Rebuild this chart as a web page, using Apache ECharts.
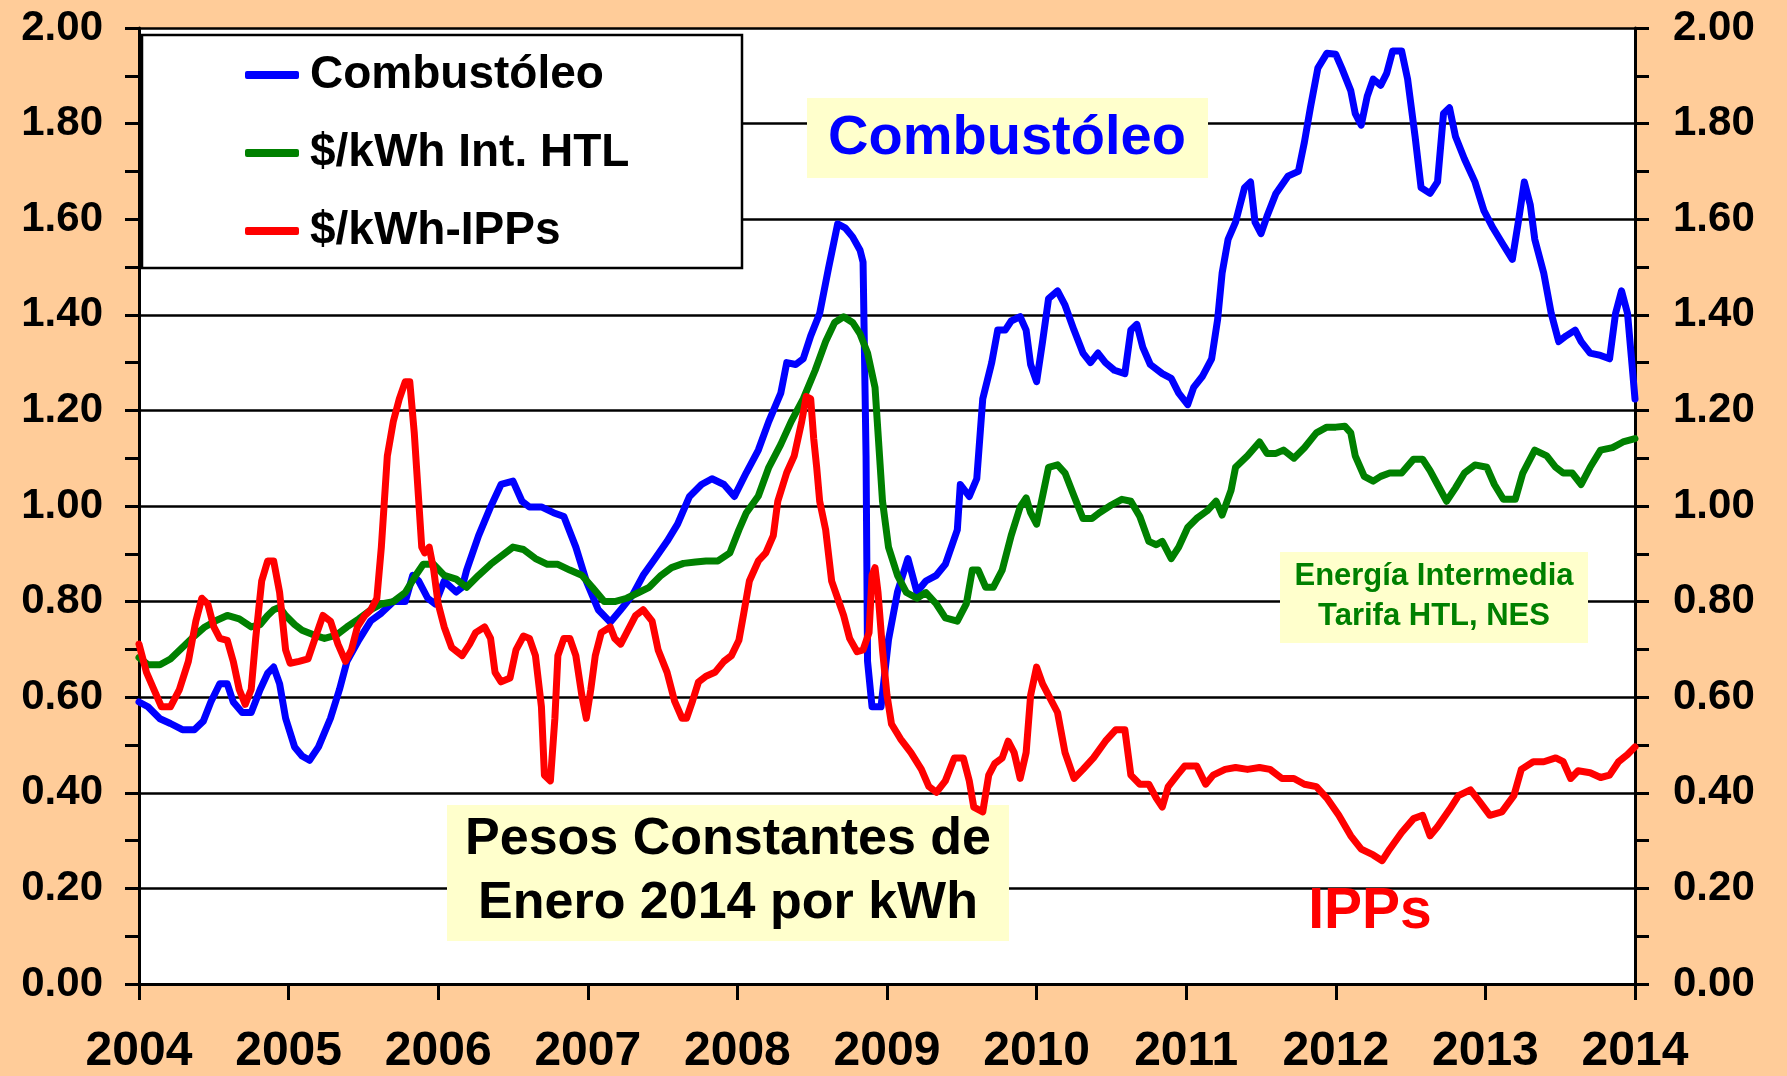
<!DOCTYPE html>
<html>
<head>
<meta charset="utf-8">
<script src="https://cdn.jsdelivr.net/npm/echarts@6/dist/echarts.min.js"></script>
<style>
  html, body { margin: 0; padding: 0; background: #FFCC99; }
  #chart { width: 1787px; height: 1076px; }
</style>
</head>
<body>
<div id="chart"></div>
<script>
// [año decimal, pesos por kWh]
const combustoleo = [
  [2004.00,0.59],[2004.06,0.58],[2004.14,0.555],[2004.21,0.545],[2004.29,0.532],[2004.37,0.532],
  [2004.43,0.55],[2004.48,0.59],[2004.54,0.628],[2004.59,0.628],[2004.63,0.59],[2004.69,0.568],
  [2004.75,0.568],[2004.81,0.616],[2004.86,0.65],[2004.90,0.663],[2004.94,0.628],[2004.98,0.556],
  [2005.04,0.496],[2005.09,0.477],[2005.14,0.468],[2005.20,0.496],[2005.28,0.556],[2005.34,0.616],
  [2005.39,0.675],[2005.47,0.72],[2005.55,0.76],[2005.62,0.776],[2005.70,0.80],[2005.78,0.80],
  [2005.83,0.855],[2005.87,0.843],[2005.93,0.807],[2005.98,0.795],[2006.04,0.843],[2006.12,0.82],
  [2006.16,0.83],[2006.19,0.866],[2006.27,0.938],[2006.35,0.998],[2006.42,1.045],[2006.50,1.052],
  [2006.56,1.01],[2006.61,0.998],[2006.69,0.998],[2006.77,0.986],[2006.84,0.978],[2006.92,0.914],
  [2006.99,0.843],[2007.07,0.783],[2007.15,0.757],[2007.22,0.783],[2007.30,0.814],[2007.37,0.855],
  [2007.45,0.89],[2007.53,0.926],[2007.60,0.962],[2007.68,1.02],[2007.76,1.045],[2007.83,1.057],
  [2007.91,1.045],[2007.98,1.02],[2008.06,1.07],[2008.14,1.117],[2008.21,1.177],[2008.29,1.236],
  [2008.33,1.30],[2008.39,1.296],[2008.44,1.308],[2008.49,1.356],[2008.55,1.403],[2008.61,1.499],
  [2008.67,1.59],[2008.72,1.582],[2008.77,1.563],[2008.82,1.535],[2008.84,1.51],[2008.86,1.105],
  [2008.87,0.675],[2008.90,0.58],[2008.96,0.58],[2009.01,0.72],[2009.07,0.82],[2009.14,0.89],
  [2009.20,0.82],[2009.26,0.843],[2009.33,0.855],[2009.39,0.878],[2009.47,0.95],[2009.49,1.045],
  [2009.55,1.02],[2009.60,1.057],[2009.64,1.224],[2009.70,1.30],[2009.74,1.368],[2009.79,1.368],
  [2009.83,1.387],[2009.89,1.396],[2009.93,1.368],[2009.96,1.296],[2010.00,1.26],[2010.04,1.344],
  [2010.08,1.434],[2010.14,1.45],[2010.19,1.42],[2010.25,1.368],[2010.31,1.32],[2010.36,1.30],
  [2010.41,1.32],[2010.46,1.30],[2010.52,1.284],[2010.59,1.277],[2010.63,1.368],[2010.67,1.38],
  [2010.71,1.332],[2010.76,1.296],[2010.84,1.277],[2010.90,1.267],[2010.95,1.236],[2011.01,1.212],
  [2011.05,1.248],[2011.11,1.272],[2011.17,1.308],[2011.21,1.39],[2011.24,1.487],[2011.28,1.558],
  [2011.33,1.594],[2011.39,1.666],[2011.43,1.678],[2011.46,1.594],[2011.50,1.57],[2011.54,1.606],
  [2011.60,1.654],[2011.68,1.69],[2011.75,1.70],[2011.79,1.761],[2011.83,1.833],[2011.88,1.916],
  [2011.94,1.947],[2012.00,1.945],[2012.04,1.916],[2012.10,1.869],[2012.13,1.821],[2012.17,1.797],
  [2012.21,1.857],[2012.25,1.893],[2012.30,1.88],[2012.34,1.905],[2012.38,1.952],[2012.44,1.952],
  [2012.48,1.893],[2012.53,1.773],[2012.57,1.666],[2012.63,1.654],[2012.68,1.678],[2012.72,1.821],
  [2012.76,1.833],[2012.80,1.773],[2012.86,1.726],[2012.93,1.678],[2012.99,1.618],[2013.05,1.582],
  [2013.12,1.546],[2013.18,1.516],[2013.22,1.594],[2013.26,1.678],[2013.30,1.63],[2013.33,1.558],
  [2013.39,1.487],[2013.44,1.403],[2013.49,1.344],[2013.54,1.356],[2013.60,1.368],[2013.64,1.344],
  [2013.70,1.32],[2013.77,1.315],[2013.83,1.308],[2013.87,1.403],[2013.91,1.45],[2013.95,1.403],
  [2013.98,1.296],[2014.00,1.224]
];

const htl = [
  [2004.00,0.683],[2004.06,0.668],[2004.14,0.668],[2004.21,0.68],[2004.29,0.704],[2004.37,0.728],
  [2004.44,0.747],[2004.52,0.761],[2004.59,0.771],[2004.67,0.764],[2004.75,0.747],[2004.81,0.752],
  [2004.86,0.771],[2004.90,0.783],[2004.94,0.788],[2004.98,0.771],[2005.04,0.752],[2005.09,0.74],
  [2005.17,0.73],[2005.24,0.723],[2005.32,0.73],[2005.39,0.747],[2005.47,0.764],[2005.55,0.783],
  [2005.62,0.795],[2005.70,0.80],[2005.78,0.819],[2005.85,0.855],[2005.90,0.878],[2005.97,0.878],
  [2006.04,0.855],[2006.12,0.847],[2006.19,0.83],[2006.27,0.855],[2006.35,0.878],[2006.42,0.895],
  [2006.50,0.914],[2006.57,0.909],[2006.65,0.89],[2006.73,0.878],[2006.80,0.878],[2006.88,0.866],
  [2006.96,0.855],[2007.03,0.83],[2007.11,0.80],[2007.18,0.80],[2007.26,0.807],[2007.34,0.819],
  [2007.41,0.83],[2007.49,0.855],[2007.56,0.871],[2007.64,0.88],[2007.72,0.883],[2007.79,0.885],
  [2007.87,0.885],[2007.95,0.902],[2008.01,0.95],[2008.06,0.986],[2008.14,1.021],[2008.21,1.081],
  [2008.29,1.129],[2008.36,1.177],[2008.44,1.224],[2008.52,1.284],[2008.59,1.344],[2008.65,1.384],
  [2008.71,1.396],[2008.77,1.384],[2008.82,1.36],[2008.87,1.32],[2008.92,1.248],[2008.95,1.105],
  [2008.97,1.01],[2009.01,0.914],[2009.07,0.855],[2009.13,0.819],[2009.20,0.807],[2009.26,0.819],
  [2009.33,0.795],[2009.39,0.766],[2009.47,0.759],[2009.53,0.795],[2009.57,0.866],[2009.61,0.866],
  [2009.66,0.83],[2009.71,0.83],[2009.77,0.866],[2009.83,0.938],[2009.89,0.998],[2009.93,1.017],
  [2009.96,0.986],[2010.00,0.962],[2010.04,1.021],[2010.08,1.081],[2010.14,1.086],[2010.19,1.069],
  [2010.25,1.021],[2010.31,0.974],[2010.37,0.974],[2010.42,0.986],[2010.50,1.002],[2010.57,1.014],
  [2010.63,1.01],[2010.69,0.978],[2010.75,0.926],[2010.80,0.919],[2010.84,0.926],[2010.90,0.89],
  [2010.95,0.914],[2011.01,0.955],[2011.07,0.974],[2011.14,0.99],[2011.20,1.01],[2011.24,0.981],
  [2011.30,1.033],[2011.33,1.081],[2011.41,1.105],[2011.49,1.134],[2011.54,1.11],[2011.60,1.11],
  [2011.65,1.117],[2011.72,1.10],[2011.79,1.122],[2011.87,1.153],[2011.94,1.165],[2012.00,1.165],
  [2012.06,1.167],[2012.10,1.153],[2012.13,1.105],[2012.19,1.062],[2012.25,1.052],[2012.30,1.062],
  [2012.36,1.069],[2012.44,1.069],[2012.52,1.098],[2012.58,1.098],[2012.63,1.074],[2012.68,1.045],
  [2012.74,1.01],[2012.80,1.038],[2012.86,1.069],[2012.93,1.086],[2013.01,1.081],[2013.06,1.045],
  [2013.12,1.014],[2013.20,1.014],[2013.25,1.069],[2013.33,1.117],[2013.41,1.105],[2013.47,1.081],
  [2013.52,1.069],[2013.58,1.069],[2013.64,1.045],[2013.70,1.081],[2013.77,1.117],[2013.85,1.122],
  [2013.92,1.134],[2014.00,1.141]
];

const ipps = [
  [2004.00,0.711],[2004.05,0.652],[2004.10,0.616],[2004.15,0.58],[2004.21,0.58],[2004.27,0.616],
  [2004.33,0.675],[2004.38,0.759],[2004.42,0.807],[2004.46,0.795],[2004.50,0.747],[2004.54,0.723],
  [2004.59,0.719],[2004.63,0.675],[2004.67,0.616],[2004.71,0.585],[2004.75,0.616],[2004.78,0.723],
  [2004.82,0.843],[2004.86,0.885],[2004.90,0.885],[2004.94,0.819],[2004.98,0.699],[2005.01,0.671],
  [2005.07,0.675],[2005.13,0.68],[2005.19,0.735],[2005.23,0.771],[2005.28,0.759],[2005.33,0.711],
  [2005.38,0.675],[2005.42,0.699],[2005.46,0.747],[2005.51,0.771],[2005.55,0.783],[2005.59,0.807],
  [2005.62,0.914],[2005.66,1.105],[2005.70,1.177],[2005.74,1.224],[2005.78,1.26],[2005.81,1.26],
  [2005.84,1.153],[2005.87,1.01],[2005.89,0.914],[2005.91,0.902],[2005.94,0.914],[2005.97,0.866],
  [2006.00,0.795],[2006.04,0.747],[2006.09,0.704],[2006.16,0.687],[2006.21,0.711],[2006.25,0.735],
  [2006.31,0.747],[2006.35,0.723],[2006.38,0.652],[2006.42,0.632],[2006.48,0.64],[2006.52,0.699],
  [2006.57,0.728],[2006.61,0.723],[2006.65,0.687],[2006.69,0.58],[2006.71,0.437],[2006.75,0.425],
  [2006.78,0.556],[2006.80,0.687],[2006.84,0.723],[2006.88,0.723],[2006.92,0.687],[2006.96,0.604],
  [2006.99,0.556],[2007.02,0.616],[2007.05,0.687],[2007.09,0.735],[2007.15,0.747],[2007.18,0.723],
  [2007.22,0.711],[2007.26,0.735],[2007.32,0.771],[2007.37,0.783],[2007.43,0.759],[2007.47,0.699],
  [2007.53,0.652],[2007.58,0.592],[2007.63,0.556],[2007.66,0.556],[2007.70,0.592],[2007.74,0.632],
  [2007.79,0.644],[2007.85,0.652],[2007.91,0.675],[2007.96,0.687],[2008.01,0.719],[2008.04,0.771],
  [2008.08,0.843],[2008.14,0.885],[2008.19,0.902],[2008.24,0.938],[2008.27,1.01],[2008.33,1.07],
  [2008.38,1.105],[2008.43,1.177],[2008.46,1.229],[2008.49,1.224],[2008.51,1.141],[2008.53,1.081],
  [2008.55,1.01],[2008.59,0.95],[2008.63,0.843],[2008.67,0.807],[2008.71,0.771],[2008.75,0.723],
  [2008.80,0.695],[2008.84,0.699],[2008.88,0.735],[2008.90,0.855],[2008.92,0.871],[2008.94,0.819],
  [2008.97,0.699],[2009.00,0.604],[2009.03,0.544],[2009.09,0.513],[2009.16,0.484],[2009.23,0.449],
  [2009.28,0.413],[2009.33,0.401],[2009.39,0.425],[2009.45,0.473],[2009.51,0.473],[2009.55,0.425],
  [2009.58,0.37],[2009.64,0.36],[2009.68,0.437],[2009.72,0.461],[2009.77,0.473],[2009.81,0.508],
  [2009.85,0.484],[2009.89,0.43],[2009.93,0.484],[2009.96,0.604],[2010.00,0.663],[2010.04,0.628],
  [2010.08,0.604],[2010.14,0.568],[2010.19,0.484],[2010.25,0.43],[2010.31,0.449],[2010.38,0.473],
  [2010.46,0.508],[2010.53,0.532],[2010.59,0.532],[2010.63,0.437],[2010.69,0.418],[2010.75,0.418],
  [2010.80,0.389],[2010.84,0.37],[2010.88,0.413],[2010.94,0.437],[2010.99,0.456],[2011.07,0.456],
  [2011.13,0.418],[2011.18,0.437],[2011.26,0.449],[2011.33,0.453],[2011.41,0.449],[2011.49,0.453],
  [2011.56,0.449],[2011.64,0.43],[2011.72,0.43],[2011.79,0.418],[2011.87,0.413],[2011.94,0.389],
  [2012.02,0.353],[2012.10,0.31],[2012.17,0.282],[2012.25,0.27],[2012.31,0.258],[2012.36,0.282],
  [2012.44,0.317],[2012.52,0.346],[2012.58,0.353],[2012.63,0.31],[2012.68,0.329],[2012.76,0.365],
  [2012.82,0.394],[2012.90,0.406],[2012.96,0.382],[2013.03,0.353],[2013.11,0.36],[2013.19,0.394],
  [2013.24,0.449],[2013.32,0.465],[2013.39,0.465],[2013.47,0.473],[2013.52,0.465],[2013.57,0.43],
  [2013.62,0.446],[2013.70,0.442],[2013.77,0.432],[2013.83,0.437],[2013.89,0.465],[2013.95,0.48],
  [2014.00,0.496]
];

const seriesNames = ['Combustóleo', '$/kWh Int. HTL', '$/kWh-IPPs'];
const seriesColors = ['#0000FF', '#008000', '#FF0000'];
const yearTicks = { min: 2004, max: 2014, step: 1 };
const valueTicks = { min: 0, max: 2, step: 0.2 };

const FONT = '"Liberation Sans", Arial, sans-serif';

const chart = echarts.init(document.getElementById('chart'));

const yAxisBase = {
  type: 'value',
  min: valueTicks.min,
  max: valueTicks.max,
  interval: valueTicks.step,
  axisLine: { show: true, lineStyle: { color: '#000', width: 3 } },
  axisTick: { show: true, length: 14, lineStyle: { color: '#000', width: 3 } },
  minorTick: { show: true, splitNumber: 2, length: 14, lineStyle: { color: '#000', width: 3 } },
  axisLabel: {
    formatter: v => v.toFixed(2),
    fontFamily: FONT, fontWeight: 'bold', fontSize: 42, color: '#000'
  }
};

chart.setOption({
  backgroundColor: '#FFCC99',
  animation: false,
  grid: {
    left: 139, right: 152, top: 28, bottom: 92,
    show: true, backgroundColor: '#fff', borderWidth: 0
  },
  legend: {
    orient: 'vertical',
    left: 240, top: 47,
    itemWidth: 54, itemHeight: 8, itemGap: 32,
    icon: 'roundRect',
    z: 5,
    textStyle: {
      fontFamily: FONT, fontWeight: 'bold', fontSize: 46, lineHeight: 46,
      color: '#000', padding: [0, 0, 0, 6]
    },
    data: seriesNames
  },
  xAxis: {
    type: 'value',
    min: yearTicks.min,
    max: yearTicks.max,
    interval: yearTicks.step,
    splitLine: { show: false },
    axisLine: { show: true, lineStyle: { color: '#000', width: 3 } },
    axisTick: { show: true, length: 16, lineStyle: { color: '#000', width: 3 } },
    axisLabel: {
      margin: 44,
      formatter: v => String(Math.round(v)),
      fontFamily: FONT, fontWeight: 'bold', fontSize: 48, color: '#000'
    }
  },
  yAxis: [
    Object.assign({}, yAxisBase, {
      position: 'left',
      splitLine: { show: true, lineStyle: { color: '#000', width: 2.5 } },
      axisLabel: Object.assign({}, yAxisBase.axisLabel, { margin: 36 })
    }),
    Object.assign({}, yAxisBase, {
      position: 'right',
      splitLine: { show: false },
      axisLabel: Object.assign({}, yAxisBase.axisLabel, { margin: 38 })
    })
  ],
  graphic: [
    // caja de la leyenda
    { type: 'rect', z: 3, shape: { x: 142, y: 35, width: 600, height: 233 },
      style: { fill: '#fff', stroke: '#000', lineWidth: 2.5 } },
    // Combustóleo
    { type: 'rect', z: 3, shape: { x: 807, y: 98, width: 401, height: 80 },
      style: { fill: '#FFFFCC' } },
    { type: 'text', z: 4, x: 1007, y: 139,
      style: { text: 'Combustóleo', font: 'bold 56px ' + FONT, fill: '#0000FF',
               align: 'center', verticalAlign: 'middle' } },
    // Pesos constantes
    { type: 'rect', z: 3, shape: { x: 447, y: 805, width: 562, height: 136 },
      style: { fill: '#FFFFCC' } },
    { type: 'text', z: 4, x: 728, y: 872,
      style: { text: 'Pesos Constantes de\nEnero 2014 por kWh', font: 'bold 52px ' + FONT,
               fill: '#000', align: 'center', verticalAlign: 'middle', lineHeight: 64 } },
    // Energía intermedia
    { type: 'rect', z: 3, shape: { x: 1280, y: 552, width: 308, height: 91 },
      style: { fill: '#FFFFCC' } },
    { type: 'text', z: 4, x: 1434, y: 596,
      style: { text: 'Energía Intermedia\nTarifa HTL, NES', font: 'bold 31px ' + FONT,
               fill: '#008000', align: 'center', verticalAlign: 'middle', lineHeight: 40 } },
    // IPPs
    { type: 'text', z: 4, x: 1370, y: 912,
      style: { text: 'IPPs', font: 'bold 57px ' + FONT, fill: '#FF0000',
               align: 'center', verticalAlign: 'middle' } }
  ],
  series: [combustoleo, htl, ipps].map((data, i) => ({
    name: seriesNames[i],
    type: 'line',
    data: data,
    showSymbol: false,
    symbol: 'none',
    color: seriesColors[i],
    lineStyle: { width: 7, color: seriesColors[i], cap: 'round', join: 'round' }
  }))
});
</script>
</body>
</html>
